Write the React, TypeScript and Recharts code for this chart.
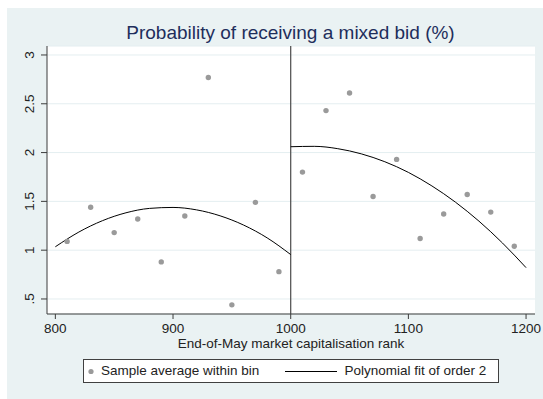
import React from "react"
import { ComposedChart, Scatter, Line, XAxis, YAxis, CartesianGrid, ReferenceLine, Legend } from "recharts"

// bins: end-of-May rank, sample average within bin (%)
const binRanks = [810, 830, 850, 870, 890, 910, 930, 950, 970, 990, 1010, 1030, 1050, 1070, 1090, 1110, 1130, 1150, 1170, 1190]
const binAverages = [1.09, 1.44, 1.18, 1.32, 0.88, 1.35, 2.77, 0.44, 1.49, 0.78, 1.8, 2.43, 2.61, 1.55, 1.93, 1.12, 1.37, 1.57, 1.39, 1.04]

// polynomial fit
const fitRanksLeft = [800, 820, 840, 860, 880, 900, 920, 940, 960, 980, 1000]
const fitLeft = [1.035, 1.186, 1.302, 1.383, 1.428, 1.438, 1.413, 1.352, 1.257, 1.126, 0.955]
const fitRanksRight = [1000, 1020, 1040, 1060, 1080, 1100, 1120, 1140, 1160, 1180, 1200]
const fitRight = [2.06, 2.064, 2.04, 1.987, 1.906, 1.797, 1.658, 1.492, 1.297, 1.073, 0.821]

const xTicks = [800, 900, 1000, 1100, 1200]
const yTicks = [0.5, 1, 1.5, 2, 2.5, 3]
const yTickLabels = [".5", "1", "1.5", "2", "2.5", "3"]

const binData = binRanks.map((x, i) => ({ x, y: binAverages[i] }))
const leftData = fitRanksLeft.map((x, i) => ({ x, y: fitLeft[i] }))
const rightData = fitRanksRight.map((x, i) => ({ x, y: fitRight[i] }))

const font = "'Liberation Sans', Arial, sans-serif"
const axisColor = "#3c3c3c"
const dotColor = "#9a9a9a"

function YTick({ x, y, payload }: any) {
    const i = yTicks.indexOf(payload.value)
    return (
        <text x={x} y={y} transform={`rotate(-90 ${x} ${y})`} textAnchor="middle" fontSize={13.5} fill="#222" fontFamily={font}>
            {i >= 0 ? yTickLabels[i] : payload.value}
        </text>
    )
}

function XLabel({ viewBox }: any) {
    const { x, y, width } = viewBox
    return (
        <text x={x + width / 2} y={y + 33.5} textAnchor="middle" fontSize={13.5} fill="#222" fontFamily={font}>
            End-of-May market capitalisation rank
        </text>
    )
}

function LegendBox() {
    return (
        <svg width={416} height={24} style={{ display: "block" }}>
            <rect x={0.5} y={0.5} width={415} height={23} fill="#fff" stroke="#404040" />
            <circle cx={8} cy={12.5} r={2.6} fill={dotColor} />
            <text x={18} y={15.8} fontSize={13.5} fill="#222" fontFamily={font}>Sample average within bin</text>
            <line x1={202} x2={254} y1={12.5} y2={12.5} stroke="#000" strokeWidth={1} />
            <text x={261.5} y={15.8} fontSize={13.5} fill="#222" fontFamily={font}>Polynomial fit of order 2</text>
        </svg>
    )
}

export default function App() {
    return (
        <div style={{ position: "fixed", left: 7, top: 8, width: 536, height: 391, background: "#eaf2f3", fontFamily: font }}>
            <svg width={536} height={40} style={{ position: "absolute", left: 0, top: 0, pointerEvents: "none" }}>
                <text x={283.5} y={31.3} textAnchor="middle" fontSize={19} fill="#1e2e5c" fontFamily={font}>
                    Probability of receiving a mixed bid (%)
                </text>
            </svg>
            <ComposedChart width={536} height={391} margin={{ top: 38, right: 8, bottom: 55, left: 0 }}>
                <CartesianGrid fill="#fff" stroke="#e4eef0" vertical={false} />
                <XAxis
                    type="number"
                    dataKey="x"
                    domain={[792.9, 1207.6]}
                    ticks={xTicks}
                    interval={0}
                    allowDataOverflow
                    height={30}
                    tickSize={5}
                    tickMargin={4}
                    stroke={axisColor}
                    tick={{ fontSize: 13.5, fill: "#222", fontFamily: font }}
                    label={<XLabel />}
                />
                <YAxis
                    type="number"
                    dataKey="y"
                    domain={[0.346, 3.092]}
                    ticks={yTicks}
                    interval={0}
                    allowDataOverflow
                    width={40}
                    tickSize={6}
                    tickMargin={7}
                    stroke={axisColor}
                    tick={<YTick />}
                />
                <ReferenceLine x={1000} stroke="#4a4a4a" strokeWidth={1.2} />
                <Scatter
                    name="Sample average within bin"
                    data={binData}
                    fill={dotColor}
                    isAnimationActive={false}
                    shape={(p: any) => <circle cx={p.cx} cy={p.cy} r={2.7} fill={dotColor} />}
                />
                <Line data={leftData} dataKey="y" type="monotone" stroke="#000" strokeWidth={1} dot={false} activeDot={false} isAnimationActive={false} />
                <Line data={rightData} dataKey="y" type="monotone" stroke="#000" strokeWidth={1} dot={false} activeDot={false} isAnimationActive={false} />
                <Legend
                    layout="horizontal"
                    verticalAlign="middle"
                    align="center"
                    wrapperStyle={{ left: 76, top: 351, width: 416, height: 24 }}
                    content={() => <LegendBox />}
                />
            </ComposedChart>
        </div>
    )
}
